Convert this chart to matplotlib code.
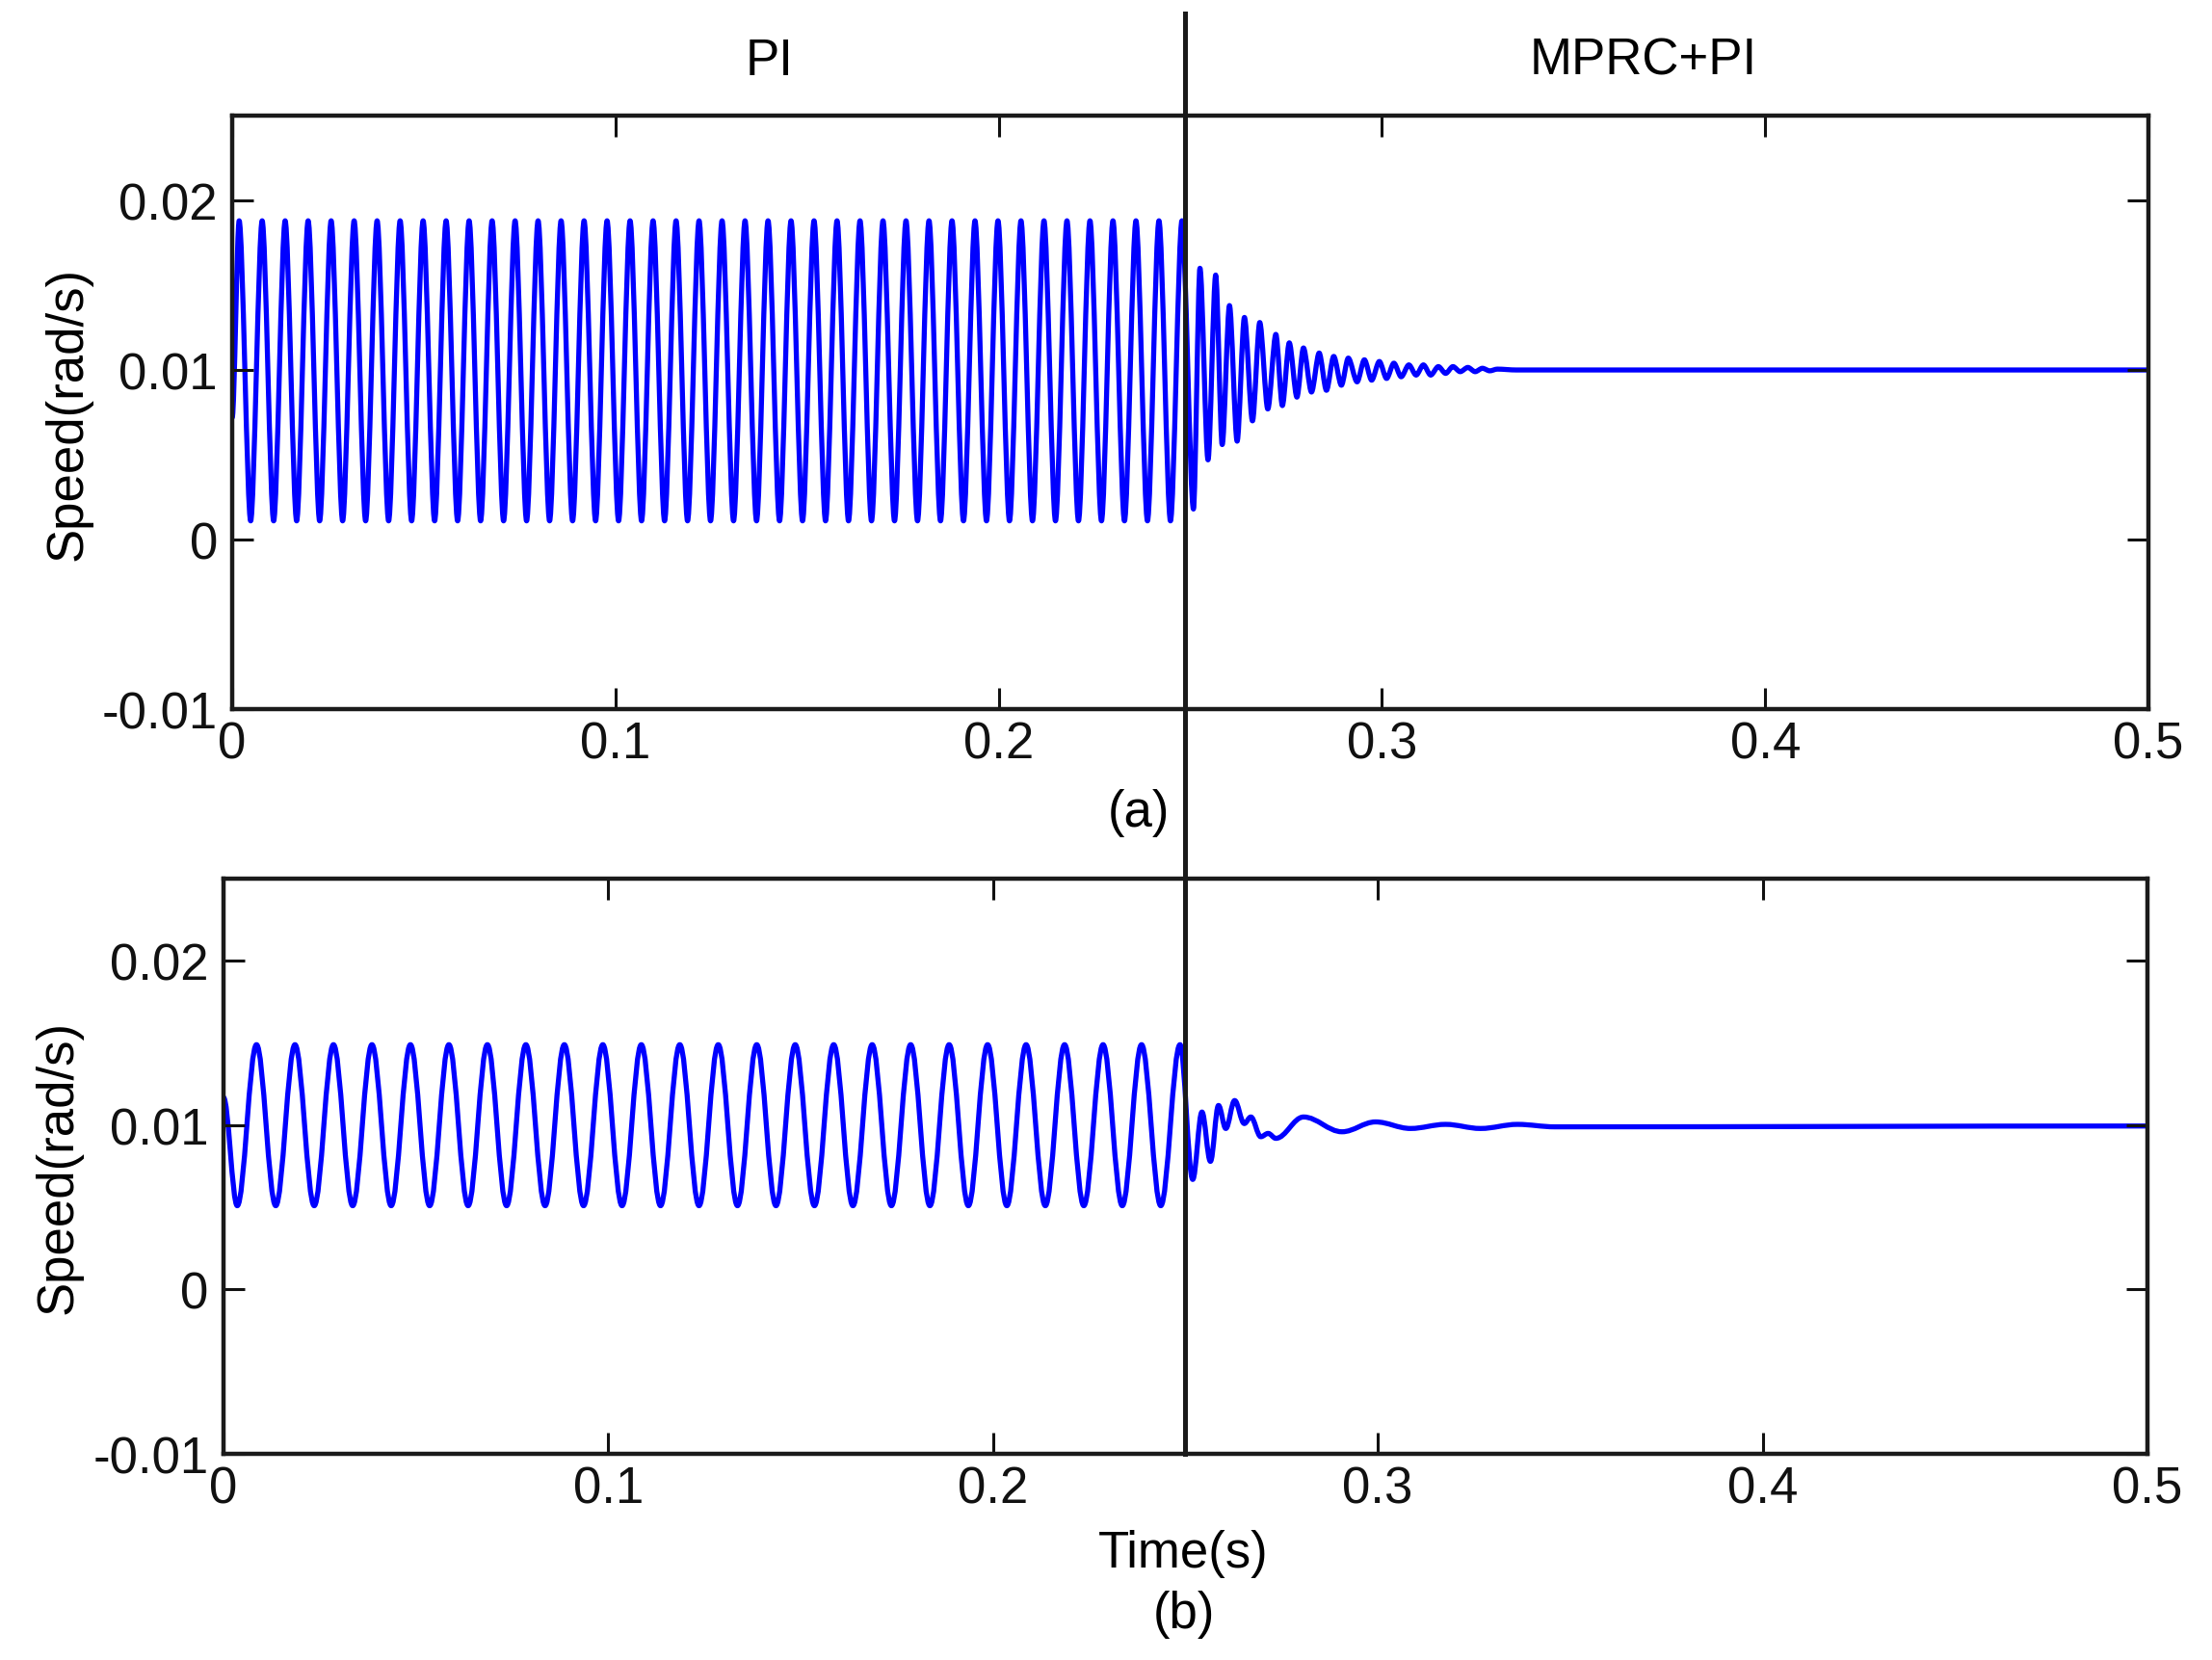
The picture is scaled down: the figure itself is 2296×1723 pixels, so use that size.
import numpy as np
import matplotlib
matplotlib.use("Agg")
import matplotlib.pyplot as plt
from matplotlib.path import Path
from matplotlib.patches import PathPatch
from matplotlib.lines import Line2D
import matplotlib.transforms as mtransforms

plt.rcParams['font.family'] = ['Liberation Sans', 'DejaVu Sans']

# ---------------- data ----------------
t_switch = 0.25
x_ticks = [0, 0.1, 0.2, 0.3, 0.4, 0.5]
x_ticklabels = ['0', '0.1', '0.2', '0.3', '0.4', '0.5']
y_ticks = [-0.01, 0, 0.01, 0.02]
y_ticklabels = ['-0.01', '0', '0.01', '0.02']

# panel (a): sustained PI oscillation (read period, phase and extremes)
pi_a_start = 0.0072
pi_a_first_peak = 0.0018
pi_a_period = 0.0060
pi_a_cycles = 42
pi_a_high = 0.0188
pi_a_low = 0.0011

# panel (a): MPRC+PI extrema after the switch
mprc_a_t = [0.2508, 0.2525, 0.2546, 0.2566, 0.2583, 0.2602, 0.2622, 0.2641,
            0.2662, 0.2681, 0.2702, 0.2723, 0.2740, 0.2758, 0.2778, 0.2795,
            0.2816, 0.2836, 0.2855, 0.2874, 0.2894, 0.2912, 0.2935, 0.2954,
            0.2973, 0.2993, 0.3012, 0.3031, 0.3050, 0.3070, 0.3089, 0.3108,
            0.3127, 0.3147, 0.3166, 0.3185, 0.3204, 0.3224, 0.3243, 0.3262,
            0.3281, 0.3301, 0.3350, 0.5000]
mprc_a_y = [0.0018, 0.0160, 0.0047, 0.0156, 0.0056, 0.0138, 0.0058, 0.0131,
            0.0070, 0.0128, 0.0077, 0.0121, 0.0079, 0.0116, 0.0084, 0.0113,
            0.0087, 0.0110, 0.0088, 0.0108, 0.0091, 0.0107, 0.0093, 0.0106,
            0.0094, 0.0105, 0.0095, 0.0104, 0.0096, 0.0103, 0.0097, 0.0103,
            0.0097, 0.0102, 0.0098, 0.0102, 0.0099, 0.01015, 0.0099, 0.0101,
            0.00995, 0.01005, 0.0100, 0.0100]

# panel (b): sustained PI oscillation
pi_b_start = 0.0117
pi_b_first_trough = 0.0036
pi_b_period = 0.0100
pi_b_cycles = 25
pi_b_high = 0.0149
pi_b_low = 0.0051

# panel (b): MPRC+PI extrema after the switch
mprc_b_t = [0.2519, 0.2543, 0.2565, 0.2586, 0.2605, 0.2628, 0.2653, 0.2670,
            0.2696, 0.2715, 0.2735, 0.2807, 0.2907, 0.2994, 0.3085, 0.3176,
            0.3267, 0.3363, 0.3460, 0.5000]
mprc_b_y = [0.0067, 0.0108, 0.0078, 0.0112, 0.0098, 0.0115, 0.0101, 0.0105,
            0.0093, 0.0095, 0.0092, 0.0105, 0.0096, 0.0102, 0.0098, 0.01005,
            0.0098, 0.01005, 0.0099, 0.00995]

# assemble extrema sequences
a_t = [0.0]
a_y = [pi_a_start]
for k in range(pi_a_cycles):
    a_t.append(pi_a_first_peak + k * pi_a_period)
    a_y.append(pi_a_high)
    if k < pi_a_cycles - 1:
        a_t.append(pi_a_first_peak + (k + 0.5) * pi_a_period)
        a_y.append(pi_a_low)
a_t += mprc_a_t
a_y += mprc_a_y

b_t = [0.0]
b_y = [pi_b_start]
for k in range(pi_b_cycles):
    b_t.append(pi_b_first_trough + k * pi_b_period)
    b_y.append(pi_b_low)
    b_t.append(pi_b_first_trough + (k + 0.5) * pi_b_period)
    b_y.append(pi_b_high)
b_t += mprc_b_t
b_y += mprc_b_y


def extrema_path(ts, ys, k=0.363):
    verts = [(ts[0], ys[0])]
    codes = [Path.MOVETO]
    for i in range(len(ts) - 1):
        dt = ts[i + 1] - ts[i]
        verts += [(ts[i] + k * dt, ys[i]), (ts[i + 1] - k * dt, ys[i + 1]),
                  (ts[i + 1], ys[i + 1])]
        codes += [Path.CURVE4] * 3
    return Path(verts, codes)


fig = plt.figure(figsize=(22.96, 17.24), dpi=100)
ax1 = fig.add_axes([0.1050, 0.5725, 0.8663, 0.3573])
ax2 = fig.add_axes([0.1010, 0.1241, 0.8698, 0.3463])

for ax, ts, ys, kk in ((ax1, a_t, a_y, 0.30), (ax2, b_t, b_y, 0.363)):
    ax.add_patch(PathPatch(extrema_path(ts, ys, kk), fill=False,
                           edgecolor='#0000ff', lw=3.8,
                           joinstyle='round', capstyle='round'))
    ax.set_xlim(0, 0.5)
    ax.set_ylim(-0.01, 0.025)
    ax.set_xticks(x_ticks)
    ax.set_xticklabels(x_ticklabels)
    ax.set_yticks(y_ticks)
    ax.set_yticklabels(y_ticklabels)
    ax.tick_params(direction='in', length=16, width=2.2, top=True, right=True,
                   labelsize=38, colors='#111111')
    ax.tick_params(axis='x', pad=8)
    ax.tick_params(axis='y', pad=11)
    for s in ax.spines.values():
        s.set_linewidth(3.2)
        s.set_color('#1a1a1a')
    ax.set_ylabel('Speed(rad/s)', fontsize=38)
    ax.yaxis.set_label_coords(-0.0734, 0.5)

# vertical switch line spanning both panels
trans = mtransforms.blended_transform_factory(ax2.transData, fig.transFigure)
fig.add_artist(Line2D([t_switch, t_switch], [0.1241, 0.9913], transform=trans,
                      color='#1a1a1a', lw=3.6))

fig.text(0.348, 0.963, 'PI', fontsize=38, ha='center', va='center')
fig.text(0.743, 0.963, 'MPRC+PI', fontsize=38, ha='center', va='center')
fig.text(0.5148, 0.5104, '(a)', fontsize=38, ha='center', va='center')
fig.text(0.5348, 0.0645, 'Time(s)', fontsize=38, ha='center', va='center')
fig.text(0.5353, 0.0278, '(b)', fontsize=38, ha='center', va='center')

fig.savefig('out.png', dpi=100, facecolor='white')
